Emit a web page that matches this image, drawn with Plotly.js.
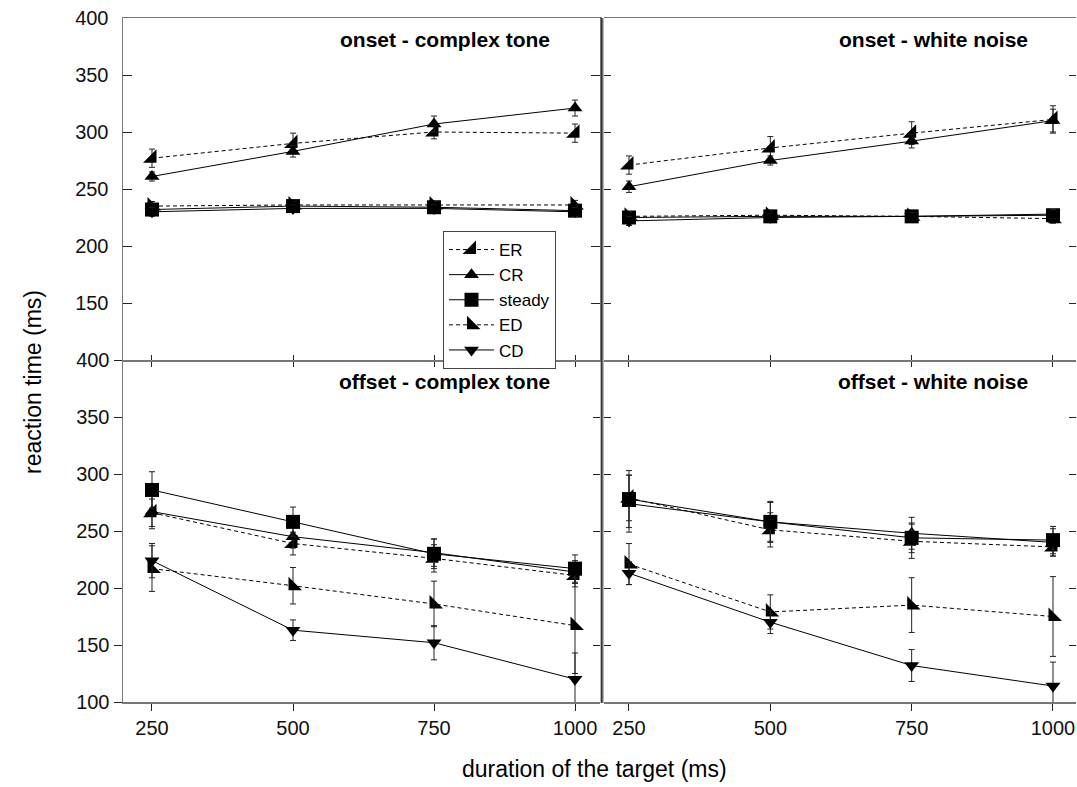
<!DOCTYPE html>
<html>
<head>
<meta charset="utf-8">
<script src="https://cdn.plot.ly/plotly-3.0.1.min.js"></script>
<style>html,body{margin:0;padding:0;background:#fff;}#chart{width:1077px;height:787px;}</style>
</head>
<body>
<div id="chart"></div>
<script>
// ---------- data ----------
const durations = [250, 500, 750, 1000];
const seriesNames = ['ER', 'CR', 'steady', 'ED', 'CD'];
const panelTitles = ['onset - complex tone', 'onset - white noise', 'offset - complex tone', 'offset - white noise'];
const xTickVals = [250, 500, 750, 1000];
const yTickValsTop = [150, 200, 250, 300, 350, 400];
const yTickValsBottom = [100, 150, 200, 250, 300, 350, 400];

// onset - complex tone
const onCT_ER = [277, 290, 300, 299];      const onCT_ER_err = [8, 9, 6, 8];
const onCT_CR = [261, 283, 307, 321];      const onCT_CR_err = [4, 5, 7, 7];
const onCT_steady = [232, 235, 234, 231];  const onCT_steady_err = [5, 3, 4, 5];
const onCT_ED = [235, 236, 236, 236];      const onCT_ED_err = [4, 3, 3, 4];
const onCT_CD = [230, 233, 233, 230];      const onCT_CD_err = [4, 3, 3, 4];

// onset - white noise
const onWN_ER = [271, 286, 299, 311];      const onWN_ER_err = [8, 10, 10, 12];
const onWN_CR = [252, 275, 292, 310];      const onWN_CR_err = [5, 4, 6, 10];
const onWN_steady = [225, 226, 226, 227];  const onWN_steady_err = [5, 3, 3, 4];
const onWN_ED = [226, 227, 226, 224];      const onWN_ED_err = [4, 3, 3, 4];
const onWN_CD = [222, 225, 226, 228];      const onWN_CD_err = [4, 3, 3, 4];

// offset - complex tone
const offCT_ER = [266, 239, 226, 211];     const offCT_ER_err = [12, 10, 12, 10];
const offCT_CR = [267, 245, 231, 214];     const offCT_CR_err = [15, 10, 12, 10];
const offCT_steady = [286, 258, 230, 217]; const offCT_steady_err = [16, 13, 13, 12];
const offCT_ED = [217, 202, 186, 167];     const offCT_ED_err = [20, 16, 20, 42];
const offCT_CD = [224, 163, 152, 120];     const offCT_CD_err = [15, 9, 15, 23];

// offset - white noise
const offWN_ER = [279, 251, 241, 236];     const offWN_ER_err = [20, 15, 15, 8];
const offWN_CR = [274, 258, 248, 240];     const offWN_CR_err = [25, 18, 14, 12];
const offWN_steady = [278, 258, 244, 242]; const offWN_steady_err = [25, 17, 13, 12];
const offWN_ED = [221, 179, 185, 175];     const offWN_ED_err = [18, 15, 24, 35];
const offWN_CD = [213, 170, 132, 114];     const offWN_CD_err = [10, 10, 14, 21];

// ---------- styles ----------
const FONT = 'Liberation Sans, Arial, sans-serif';
const styles = {
  ER:     {symbol: 'triangle-se', size: 15, dash: '4px,3px'},
  CR:     {symbol: 'triangle-up', size: 13, dash: 'solid'},
  steady: {symbol: 'square', size: 14, dash: 'solid'},
  ED:     {symbol: 'triangle-sw', size: 15, dash: '4px,3px'},
  CD:     {symbol: 'triangle-down', size: 13, dash: 'solid'}
};

const panels = [
  {xa: 'x3', ya: 'y3', vals: [onCT_ER, onCT_CR, onCT_steady, onCT_ED, onCT_CD],
   errs: [onCT_ER_err, onCT_CR_err, onCT_steady_err, onCT_ED_err, onCT_CD_err], legend: true},
  {xa: 'x4', ya: 'y4', vals: [onWN_ER, onWN_CR, onWN_steady, onWN_ED, onWN_CD],
   errs: [onWN_ER_err, onWN_CR_err, onWN_steady_err, onWN_ED_err, onWN_CD_err], legend: false},
  {xa: 'x', ya: 'y', vals: [offCT_ER, offCT_CR, offCT_steady, offCT_ED, offCT_CD],
   errs: [offCT_ER_err, offCT_CR_err, offCT_steady_err, offCT_ED_err, offCT_CD_err], legend: false},
  {xa: 'x2', ya: 'y2', vals: [offWN_ER, offWN_CR, offWN_steady, offWN_ED, offWN_CD],
   errs: [offWN_ER_err, offWN_CR_err, offWN_steady_err, offWN_ED_err, offWN_CD_err], legend: false}
];

const traces = [];
panels.forEach(p => {
  seriesNames.forEach((name, i) => {
    const s = styles[name];
    traces.push({
      type: 'scatter', mode: 'lines+markers', name: name,
      x: durations, y: p.vals[i],
      xaxis: p.xa, yaxis: p.ya,
      showlegend: p.legend, legendgroup: name,
      line: {color: '#000', width: 1, dash: s.dash},
      marker: {symbol: s.symbol, size: s.size, color: '#000', line: {width: 0}},
      error_y: {type: 'data', array: p.errs[i], visible: true, color: '#222', thickness: 1, width: 3},
      hoverinfo: 'x+y+name'
    });
  });
});
// empty traces so the overlay tick axes get drawn
traces.push({type: 'scatter', x: [], y: [], xaxis: 'x5', yaxis: 'y', showlegend: false, hoverinfo: 'skip'});
traces.push({type: 'scatter', x: [], y: [], xaxis: 'x6', yaxis: 'y2', showlegend: false, hoverinfo: 'skip'});
traces.push({type: 'scatter', x: [], y: [], xaxis: 'x', yaxis: 'y5', showlegend: false, hoverinfo: 'skip'});

// ---------- geometry ----------
const W = 1077, H = 787;
const domL = [123 / W, 600 / W];
const domR = [604 / W, 1076 / W];
const domT = [1 - 360 / H, 1 - 18 / H];
const domB = [1 - 702 / H, 1 - 360 / H];
const rangeL = [198.6, 1044.3];
const rangeR = [205.8, 1040.7];
const yRange = [100, 400];
const LINE = '#777';
const TICK = '#222';
const tickFont = {family: FONT, size: 20, color: '#111'};

const layout = {
  width: W, height: H,
  margin: {l: 0, r: 0, t: 0, b: 0},
  paper_bgcolor: '#fff', plot_bgcolor: 'rgba(0,0,0,0)',
  font: {family: FONT, color: '#000'},
  showlegend: true,
  legend: {
    x: 443 / W, y: 1 - 231 / H, xanchor: 'left', yanchor: 'top',
    bgcolor: '#fff', bordercolor: '#444', borderwidth: 1,
    font: {family: FONT, size: 17, color: '#000'},
    tracegroupgap: 0, itemwidth: 45
  },
  // bottom-left
  xaxis: {domain: domL, anchor: 'y', range: rangeL, tickvals: xTickVals, ticks: 'outside', ticklen: 7,
          tickcolor: TICK, showline: true, linecolor: LINE, linewidth: 1.5, showgrid: false, zeroline: false,
          tickfont: tickFont, fixedrange: true},
  yaxis: {domain: domB, anchor: 'x', range: yRange, tickvals: yTickValsBottom, ticks: 'outside', ticklen: 8,
          tickcolor: TICK, showline: true, linecolor: LINE, linewidth: 1.5, showgrid: false, zeroline: false,
          tickfont: tickFont},
  // bottom-right
  xaxis2: {domain: domR, anchor: 'y2', range: rangeR, tickvals: xTickVals, ticks: 'outside', ticklen: 7,
           tickcolor: TICK, showline: true, linecolor: LINE, linewidth: 1.5, showgrid: false, zeroline: false,
           tickfont: tickFont},
  yaxis2: {domain: domB, anchor: 'x2', range: yRange, tickvals: yTickValsBottom, ticks: 'inside', ticklen: 7,
           mirror: 'ticks', tickcolor: TICK, showline: false, showgrid: false, zeroline: false, showticklabels: false},
  // top-left
  xaxis3: {domain: domL, anchor: 'y3', range: rangeL, tickvals: xTickVals, ticks: 'inside', ticklen: 5,
           tickcolor: TICK, showline: true, mirror: true, linecolor: LINE, linewidth: 1.5, showgrid: false,
           zeroline: false, showticklabels: false},
  yaxis3: {domain: domT, anchor: 'x3', range: yRange, tickvals: yTickValsTop, ticks: 'inside', ticklen: 9,
           mirror: 'ticks', tickcolor: TICK, showline: true, linecolor: LINE, linewidth: 1.5, showgrid: false,
           zeroline: false, tickfont: tickFont, ticklabelstandoff: 9},
  // top-right
  xaxis4: {domain: domR, anchor: 'y4', range: rangeR, tickvals: xTickVals, ticks: 'inside', ticklen: 5,
           tickcolor: TICK, showline: true, mirror: true, linecolor: LINE, linewidth: 1.5, showgrid: false,
           zeroline: false, showticklabels: false},
  yaxis4: {domain: domT, anchor: 'x4', range: yRange, tickvals: yTickValsTop, ticks: 'inside', ticklen: 7,
           mirror: 'ticks', tickcolor: TICK, showline: false, showgrid: false, zeroline: false, showticklabels: false},
  // overlay tick axes for the bottom panels (top inside ticks) and bottom-left right side
  xaxis5: {overlaying: 'x', side: 'top', anchor: 'y', range: rangeL, tickvals: xTickVals, ticks: 'inside',
           ticklen: 7, tickcolor: TICK, showline: false, showgrid: false, zeroline: false, showticklabels: false},
  xaxis6: {overlaying: 'x2', side: 'top', anchor: 'y2', range: rangeR, tickvals: xTickVals, ticks: 'inside',
           ticklen: 7, tickcolor: TICK, showline: false, showgrid: false, zeroline: false, showticklabels: false},
  yaxis5: {overlaying: 'y', side: 'right', anchor: 'x', range: yRange, tickvals: yTickValsBottom, ticks: 'inside',
           ticklen: 7, tickcolor: TICK, showline: false, showgrid: false, zeroline: false, showticklabels: false},
  shapes: [
    {type: 'line', xref: 'paper', yref: 'paper', x0: 602 / W, x1: 602 / W, y0: 1 - 703 / H, y1: 1 - 18 / H,
     line: {color: '#6f6f6f', width: 3}},
    {type: 'line', xref: 'paper', yref: 'paper', x0: 601.5 / W, x1: 601.5 / W, y0: 1 - 703 / H, y1: 1 - 18 / H,
     line: {color: '#333', width: 1}}
  ],
  annotations: [
    {text: '<b>' + panelTitles[0] + '</b>', xref: 'paper', yref: 'paper', x: 552 / W, y: 1 - 40 / H,
     xanchor: 'right', yanchor: 'middle', showarrow: false, font: {family: FONT, size: 21, color: '#000'}},
    {text: '<b>' + panelTitles[1] + '</b>', xref: 'paper', yref: 'paper', x: 1030 / W, y: 1 - 40 / H,
     xanchor: 'right', yanchor: 'middle', showarrow: false, font: {family: FONT, size: 21, color: '#000'}},
    {text: '<b>' + panelTitles[2] + '</b>', xref: 'paper', yref: 'paper', x: 552 / W, y: 1 - 381 / H,
     xanchor: 'right', yanchor: 'middle', showarrow: false, font: {family: FONT, size: 21, color: '#000'}},
    {text: '<b>' + panelTitles[3] + '</b>', xref: 'paper', yref: 'paper', x: 1030 / W, y: 1 - 381 / H,
     xanchor: 'right', yanchor: 'middle', showarrow: false, font: {family: FONT, size: 21, color: '#000'}},
    {text: 'duration of the target (ms)', xref: 'paper', yref: 'paper', x: 594 / W, y: 1 - 769 / H,
     xanchor: 'center', yanchor: 'middle', showarrow: false, font: {family: FONT, size: 23, color: '#000'}},
    {text: 'reaction time (ms)', xref: 'paper', yref: 'paper', x: 33 / W, y: 1 - 382 / H, textangle: -90,
     xanchor: 'center', yanchor: 'middle', showarrow: false, font: {family: FONT, size: 23, color: '#000'}}
  ]
};

Plotly.newPlot('chart', traces, layout, {staticPlot: true, displayModeBar: false});
</script>
</body>
</html>
